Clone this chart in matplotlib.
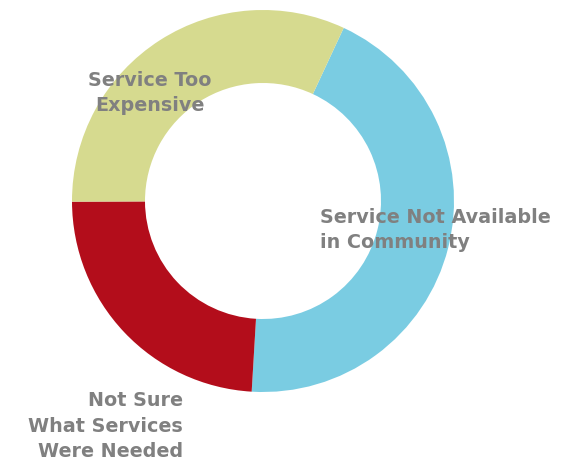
import matplotlib.pyplot as plt

# shares (clockwise from the top-right boundary)
categories = ['Service Not Available\nin Community',
              'Not Sure\nWhat Services\nWere Needed',
              'Service Too\nExpensive']
values = [44, 24, 32]
colors = ['#7acce2', '#b30d1b', '#d6da8f']

W, H = 581, 462
fig = plt.figure(figsize=(W / 100, H / 100), dpi=100)
ax = fig.add_axes([0, 0, 1, 1])

cx, cy = 263, H - 201
r_out, r_in = 191, 118
ax.pie(values, colors=colors, startangle=65, counterclock=False,
       center=(cx, cy), radius=r_out, frame=True,
       wedgeprops=dict(width=r_out - r_in, linewidth=0))
ax.set_xlim(0, W)
ax.set_ylim(0, H)
ax.set_aspect('equal')
ax.axis('off')

txt = dict(color='#808080', fontsize=13.8, fontweight='bold',
           family='DejaVu Sans', linespacing=1.42)
ax.text(320, H - 230, categories[0], ha='left', va='center', **txt)
ax.text(183, H - 426, categories[1], ha='right', va='center', **txt)
ax.text(150, H - 93, categories[2], ha='center', va='center', **txt)

fig.savefig('out.png', dpi=100)
